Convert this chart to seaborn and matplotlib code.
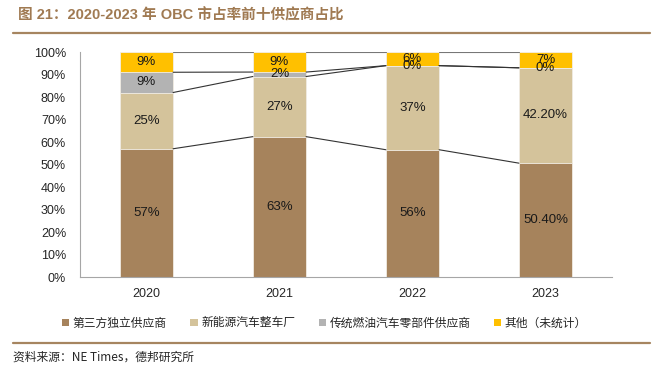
import numpy as np
import pandas as pd
import seaborn as sns
import matplotlib.pyplot as plt
from matplotlib.patches import Patch
from matplotlib.lines import Line2D

sns.set_style('white')
plt.rcParams['font.family'] = ['Liberation Sans', 'Noto Sans CJK SC', 'DejaVu Sans']

# data
years = ['2020', '2021', '2022', '2023']
series_names = ['第三方独立供应商', '新能源汽车整车厂', '传统燃油汽车零部件供应商', '其他（未统计）']
third_party = [57, 63, 56, 50.4]
nev_oem = [25, 27, 37, 42.2]
traditional = [9, 2, 0, 0]
other = [9, 9, 6, 7]
labels = [
    ['57%', '63%', '56%', '50.40%'],
    ['25%', '27%', '37%', '42.20%'],
    ['9%', '2%', '0%', '0%'],
    ['9%', '9%', '6%', '7%'],
]
colors = ['#A6835C', '#D4C39B', '#B3B3B3', '#FFC000']
brown = '#A68560'

vals = np.array([third_party, nev_oem, traditional, other], dtype=float)
shares = vals / vals.sum(axis=0)          # 100% stacked, like Excel
cum = shares.cumsum(axis=0)

fig = plt.figure(figsize=(6.65, 3.67), dpi=100)
ax = fig.add_axes([0.1203, 0.2452, 0.80, 0.6131])

# stacked bars: draw cumulative totals from top series down
for k in range(3, -1, -1):
    df = pd.DataFrame({'year': years, 'v': cum[k]})
    sns.barplot(data=df, x='year', y='v', color=colors[k], width=0.4,
                edgecolor='#F2EEE6', linewidth=0.6, saturation=1, ax=ax)

# segment labels
for k in range(4):
    for i in range(4):
        mid = cum[k][i] - shares[k][i] / 2
        ax.text(i, mid, labels[k][i], ha='center', va='center', fontsize=9.5, color='#1a1a1a')

# series lines between bars
hw = 0.2
for k in range(4):
    for i in range(3):
        ax.plot([i + hw, i + 1 - hw], [cum[k][i], cum[k][i + 1]],
                color='#333333' if k < 3 else '#777777', lw=0.8)

ax.set_xlim(-0.5, 3.5)
ax.set_ylim(0, 1)
ax.set_yticks(np.arange(0, 1.01, 0.1))
ax.set_yticklabels([f'{int(round(t * 100))}%' for t in np.arange(0, 1.01, 0.1)])
ax.set_xlabel('')
ax.set_ylabel('')
ax.set_xticks(range(4))
ax.set_xticklabels(years)
ax.set_xticks([0.5, 1.5, 2.5, 3.5], minor=True)
ax.tick_params(axis='x', which='major', length=0, labelsize=9, pad=8)
ax.tick_params(axis='x', which='minor', direction='in', length=3, color='#A6A6A6')
ax.tick_params(axis='y', direction='in', length=3, color='#A6A6A6', labelsize=9, pad=10)
for s in ['top', 'right']:
    ax.spines[s].set_visible(False)
for s in ['left', 'bottom']:
    ax.spines[s].set_color('#A6A6A6')
    ax.spines[s].set_linewidth(0.8)

# legend
handles = [Patch(facecolor=c, edgecolor='none') for c in colors]
fig.legend(handles, series_names, loc='center', bbox_to_anchor=(0.488, 0.12), ncol=4,
           frameon=False, handlelength=0.6, handleheight=0.6,
           handletextpad=0.3, columnspacing=2.0, prop={'family': ['Noto Sans CJK SC'], 'size': 8.5})

# title, rules, source
fig.text(0.027, 0.958, '图 21：2020-2023 年 OBC 市占率前十供应商占比', fontsize=10.5,
         fontweight='bold', color='#A07A52', va='center',
         family=['Liberation Sans', 'Noto Sans CJK SC'])
fig.add_artist(Line2D([0.02, 0.977], [0.91, 0.91], color=brown, lw=1.6))
fig.add_artist(Line2D([0.02, 0.977], [0.065, 0.065], color=brown, lw=1.6))
fig.text(0.02, 0.027, '资料来源：NE Times，德邦研究所', fontsize=8.5, va='center',
         family=['Noto Sans CJK SC', 'Liberation Sans'])

fig.savefig('out.png', dpi=100)
